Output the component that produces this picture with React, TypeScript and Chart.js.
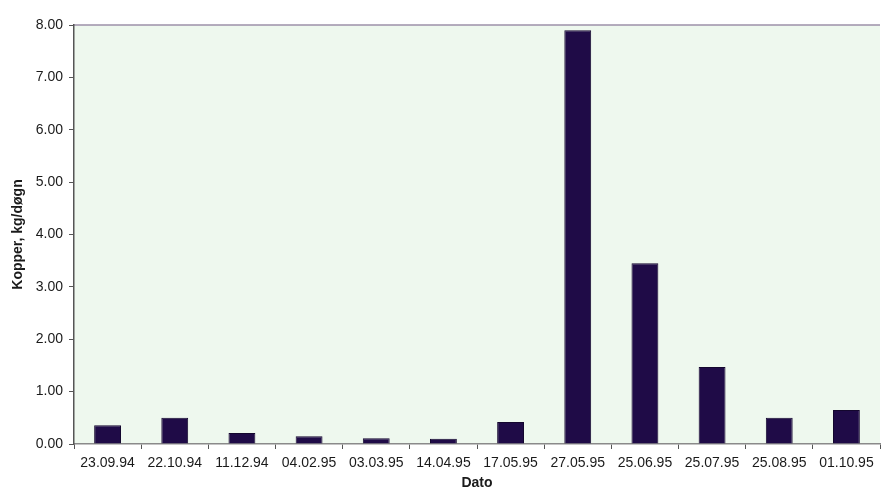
import React, { useEffect, useRef } from "react";
import { Chart, registerables } from "chart.js";

Chart.register(...registerables);

const categories = [
  "23.09.94", "22.10.94", "11.12.94", "04.02.95", "03.03.95", "14.04.95",
  "17.05.95", "27.05.95", "25.06.95", "25.07.95", "25.08.95", "01.10.95",
];
const copperValues = [0.36, 0.5, 0.21, 0.15, 0.11, 0.1, 0.42, 7.9, 3.45, 1.47, 0.5, 0.65];
const yTicks = [0, 1, 2, 3, 4, 5, 6, 7, 8];

const bgPlugin = {
  id: "plotBg",
  beforeDraw(chart: any) {
    const { ctx, chartArea } = chart;
    if (!chartArea) return;
    ctx.save();
    ctx.fillStyle = "#eef8ee";
    ctx.fillRect(chartArea.left, chartArea.top, chartArea.right - chartArea.left, chartArea.bottom - chartArea.top);
    ctx.strokeStyle = "#9c90a8";
    ctx.lineWidth = 1.5;
    ctx.beginPath();
    ctx.moveTo(chartArea.left, chartArea.top);
    ctx.lineTo(chartArea.right, chartArea.top);
    ctx.stroke();
    ctx.restore();
  },
};

const fontFamily = "'Liberation Sans', Arial, sans-serif";

export default function App() {
  const ref = useRef<HTMLCanvasElement>(null);
  useEffect(() => {
    document.body.style.margin = "0";
    const chart = new Chart(ref.current!, {
      type: "bar",
      data: {
        labels: categories,
        datasets: [
          {
            data: copperValues,
            backgroundColor: "#1f0b47",
            borderColor: "#14072e",
            borderWidth: 1,
            barPercentage: 0.8,
            categoryPercentage: 0.5,
          },
        ],
      },
      plugins: [bgPlugin],
      options: {
        animation: false,
        responsive: false,
        maintainAspectRatio: false,
        layout: { padding: { top: 25, right: 2, left: 0, bottom: 0 } },
        plugins: { legend: { display: false }, tooltip: { enabled: false } },
        scales: {
          x: {
            grid: { display: true, drawOnChartArea: false, tickLength: 5, color: "#555", offset: true },
            border: { display: true, color: "#8a8a8a", width: 1.5 },
            ticks: {
              color: "#1a1a1a",
              font: { family: fontFamily, size: 14 },
              padding: 6,
              maxRotation: 0,
              autoSkip: false,
            },
            title: {
              display: true,
              text: "Dato",
              color: "#1a1a1a",
              font: { family: fontFamily, size: 14, weight: "bold" },
              padding: { top: 2, bottom: 0 },
            },
            afterFit(scale: any) {
              scale.height = 48;
            },
          },
          y: {
            min: 0,
            max: 8,
            afterBuildTicks(scale: any) {
              scale.ticks = yTicks.map((v) => ({ value: v }));
            },
            grid: { display: true, drawOnChartArea: false, tickLength: 5, color: "#555" },
            border: { display: true, color: "#555", width: 1.5 },
            ticks: {
              color: "#1a1a1a",
              font: { family: fontFamily, size: 14 },
              padding: 6,
              callback: (v: any) => Number(v).toFixed(2),
            },
            title: {
              display: true,
              text: "Kopper, kg/døgn",
              color: "#1a1a1a",
              font: { family: fontFamily, size: 14, weight: "bold" },
              padding: { top: 10, bottom: 0 },
            },
            afterFit(scale: any) {
              scale.width = 74;
            },
          },
        },
      },
    });
    return () => chart.destroy();
  }, []);
  return <canvas ref={ref} width={882} height={492} style={{ display: "block" }} />;
}
